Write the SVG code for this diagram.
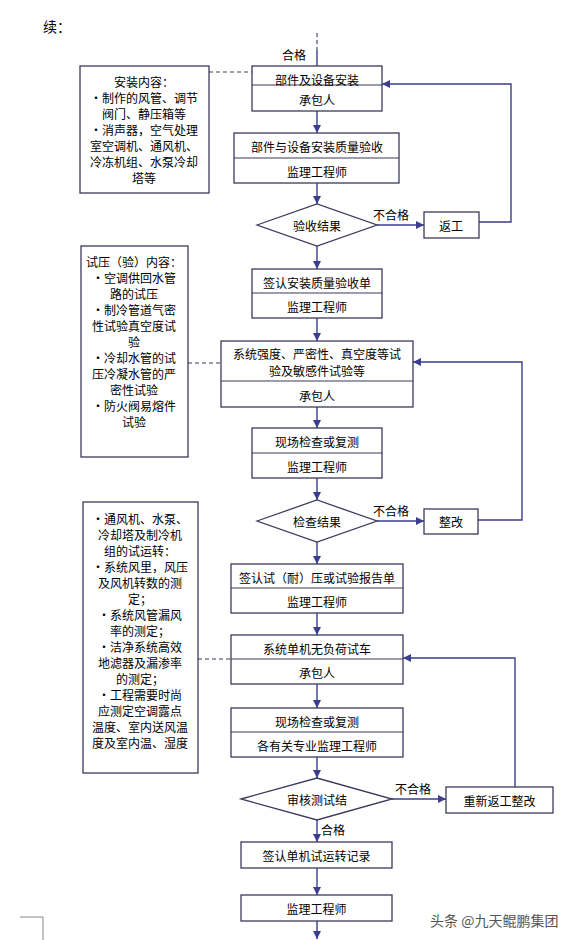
<svg xmlns="http://www.w3.org/2000/svg" width="578" height="940" viewBox="0 0 578 940">
<style>
.box{fill:#fff;stroke:#3a3a5c;stroke-width:1.3}
.div{stroke:#3a3a5c;stroke-width:1.2}
.conn{stroke:#3d3d8f;stroke-width:1.4;fill:none}
.dash{stroke:#3a3a5c;stroke-width:1.1;stroke-dasharray:4,3;fill:none}
.t{font-family:"Noto Sans CJK SC","Noto Sans",sans-serif;font-size:12px;fill:#000;text-anchor:middle;dominant-baseline:central}
.n{font-family:"Noto Sans CJK SC","Noto Sans",sans-serif;font-size:12px;fill:#000;text-anchor:middle;dominant-baseline:central}
</style>
<defs>
<marker id="ah" markerUnits="userSpaceOnUse" markerWidth="9" markerHeight="9" refX="8" refY="4" orient="auto">
<path d="M0,0 L8,4 L0,8 z" fill="#3d3d8f"/>
</marker>
</defs>
<rect width="578" height="940" fill="#fff"/>
<text x="43" y="26" font-family="'Noto Sans CJK SC',sans-serif" font-size="14" fill="#000" dominant-baseline="central">续：</text>

<g id="connectors">
<line class="dash" x1="317" y1="33" x2="317" y2="50"/>
<line class="conn" x1="317" y1="50" x2="317" y2="66"/>
<text class="n" x="294" y="54">合格</text>
<line class="dash" x1="209" y1="72" x2="252" y2="72"/>
<line class="conn" x1="317" y1="111" x2="317" y2="133" marker-end="url(#ah)"/>
<line class="conn" x1="317" y1="183" x2="317" y2="204" marker-end="url(#ah)"/>
<line class="conn" x1="377" y1="225" x2="424" y2="225" marker-end="url(#ah)"/>
<text class="n" x="391" y="214">不合格</text>
<polyline class="conn" points="479,222 511,222 511,84 382,84" marker-end="url(#ah)"/>
<line class="conn" x1="317" y1="246" x2="317" y2="269" marker-end="url(#ah)"/>
<line class="conn" x1="317" y1="318" x2="317" y2="341" marker-end="url(#ah)"/>
<line class="dash" x1="188" y1="363" x2="221" y2="363"/>
<line class="conn" x1="317" y1="407" x2="317" y2="428" marker-end="url(#ah)"/>
<line class="conn" x1="317" y1="478" x2="317" y2="500" marker-end="url(#ah)"/>
<line class="conn" x1="377" y1="521" x2="424" y2="521" marker-end="url(#ah)"/>
<text class="n" x="391" y="510">不合格</text>
<polyline class="conn" points="478,520 522,520 522,362 413,362" marker-end="url(#ah)"/>
<line class="conn" x1="317" y1="542" x2="317" y2="564" marker-end="url(#ah)"/>
<line class="conn" x1="317" y1="613" x2="317" y2="635" marker-end="url(#ah)"/>
<line class="dash" x1="198" y1="659" x2="231" y2="659"/>
<line class="conn" x1="317" y1="684" x2="317" y2="708" marker-end="url(#ah)"/>
<line class="conn" x1="317" y1="757" x2="317" y2="778" marker-end="url(#ah)"/>
<line class="conn" x1="392" y1="799" x2="446" y2="799" marker-end="url(#ah)"/>
<text class="n" x="413" y="788">不合格</text>
<polyline class="conn" points="515,787 515,658 403,658" marker-end="url(#ah)"/>
<line class="conn" x1="317" y1="820" x2="317" y2="842" marker-end="url(#ah)"/>
<text class="n" x="333" y="829">合格</text>
<line class="conn" x1="317" y1="868" x2="317" y2="895" marker-end="url(#ah)"/>
<line class="conn" x1="317" y1="921" x2="317" y2="939" marker-end="url(#ah)"/>
</g>

<g id="note1">
<rect class="box" x="80" y="66" width="129" height="127"/>
<text class="t" x="144" y="81">安装内容：</text>
<text class="t" x="144" y="97">·制作的风管、调节</text>
<text class="t" x="144" y="113">阀门、静压箱等</text>
<text class="t" x="144" y="129">·消声器，空气处理</text>
<text class="t" x="144" y="145">室空调机、通风机、</text>
<text class="t" x="144" y="161">冷冻机组、水泵冷却</text>
<text class="t" x="144" y="177">塔等</text>
</g>

<g id="note2">
<rect class="box" x="81" y="246" width="107" height="211"/>
<text class="t" x="134" y="261">试压（验）内容：</text>
<text class="t" x="134" y="277">·空调供回水管</text>
<text class="t" x="134" y="293">路的试压</text>
<text class="t" x="134" y="309">·制冷管道气密</text>
<text class="t" x="134" y="325">性试验真空度试</text>
<text class="t" x="134" y="341">验</text>
<text class="t" x="134" y="357">·冷却水管的试</text>
<text class="t" x="134" y="373">压冷凝水管的严</text>
<text class="t" x="134" y="389">密性试验</text>
<text class="t" x="134" y="405">·防火阀易熔件</text>
<text class="t" x="134" y="421">试验</text>
</g>

<g id="note3">
<rect class="box" x="83" y="502" width="115" height="271"/>
<text class="t" x="140" y="518">·通风机、水泵、</text>
<text class="t" x="140" y="534">冷却塔及制冷机</text>
<text class="t" x="140" y="550">组的试运转：</text>
<text class="t" x="140" y="566">·系统风里，风压</text>
<text class="t" x="140" y="582">及风机转数的测</text>
<text class="t" x="140" y="598">定；</text>
<text class="t" x="140" y="614">·系统风管漏风</text>
<text class="t" x="140" y="630">率的测定；</text>
<text class="t" x="140" y="646">·洁净系统高效</text>
<text class="t" x="140" y="662">地滤器及漏渗率</text>
<text class="t" x="140" y="678">的测定；</text>
<text class="t" x="140" y="694">·工程需要时尚</text>
<text class="t" x="140" y="710">应测定空调露点</text>
<text class="t" x="140" y="726">温度、室内送风温</text>
<text class="t" x="140" y="742">度及室内温、湿度</text>
</g>

<g id="n1">
<rect class="box" x="252" y="66" width="130" height="45"/>
<line class="div" x1="252" y1="85" x2="382" y2="85"/>
<text class="t" x="317" y="79">部件及设备安装</text>
<text class="t" x="317" y="99">承包人</text>
</g>
<g id="n2">
<rect class="box" x="234" y="133" width="165" height="50"/>
<line class="div" x1="234" y1="158" x2="399" y2="158"/>
<text class="t" x="317" y="146">部件与设备安装质量验收</text>
<text class="t" x="317" y="171">监理工程师</text>
</g>
<g id="d1">
<polygon class="box" points="257,225 317,204 377,225 317,246"/>
<text class="t" x="317" y="225">验收结果</text>
</g>
<g id="r1">
<rect class="box" x="424" y="212" width="55" height="26"/>
<text class="t" x="451" y="225">返工</text>
</g>
<g id="n3">
<rect class="box" x="252" y="269" width="130" height="49"/>
<line class="div" x1="252" y1="293" x2="382" y2="293"/>
<text class="t" x="317" y="282">签认安装质量验收单</text>
<text class="t" x="317" y="306">监理工程师</text>
</g>
<g id="n4">
<rect class="box" x="221" y="341" width="192" height="66"/>
<line class="div" x1="221" y1="381" x2="413" y2="381"/>
<text class="t" x="317" y="353">系统强度、严密性、真空度等试</text>
<text class="t" x="317" y="370">验及敏感件试验等</text>
<text class="t" x="317" y="395">承包人</text>
</g>
<g id="n5">
<rect class="box" x="252" y="428" width="130" height="50"/>
<line class="div" x1="252" y1="453" x2="382" y2="453"/>
<text class="t" x="317" y="441">现场检查或复测</text>
<text class="t" x="317" y="466">监理工程师</text>
</g>
<g id="d2">
<polygon class="box" points="257,521 317,500 377,521 317,542"/>
<text class="t" x="317" y="521">检查结果</text>
</g>
<g id="r2">
<rect class="box" x="424" y="509" width="54" height="25"/>
<text class="t" x="451" y="521">整改</text>
</g>
<g id="n6">
<rect class="box" x="231" y="564" width="172" height="49"/>
<line class="div" x1="231" y1="588" x2="403" y2="588"/>
<text class="t" x="317" y="577">签认试（耐）压或试验报告单</text>
<text class="t" x="317" y="601">监理工程师</text>
</g>
<g id="n7">
<rect class="box" x="231" y="635" width="172" height="49"/>
<line class="div" x1="231" y1="659" x2="403" y2="659"/>
<text class="t" x="317" y="648">系统单机无负荷试车</text>
<text class="t" x="317" y="672">承包人</text>
</g>
<g id="n8">
<rect class="box" x="231" y="708" width="172" height="49"/>
<line class="div" x1="231" y1="732" x2="403" y2="732"/>
<text class="t" x="317" y="721">现场检查或复测</text>
<text class="t" x="317" y="745">各有关专业监理工程师</text>
</g>
<g id="d3">
<polygon class="box" points="241,799 317,778 392,799 317,820"/>
<text class="t" x="317" y="799">审核测试结</text>
</g>
<g id="r3">
<rect class="box" x="446" y="787" width="107" height="26"/>
<text class="t" x="499.5" y="800">重新返工整改</text>
</g>
<g id="n9">
<rect class="box" x="241" y="842" width="151" height="26"/>
<text class="t" x="316.5" y="855">签认单机试运转记录</text>
</g>
<g id="n10">
<rect class="box" x="241" y="895" width="151" height="26"/>
<text class="t" x="316.5" y="908">监理工程师</text>
</g>

<path d="M20,917 H43 V940" fill="none" stroke="#888" stroke-width="1"/>
<text x="430" y="920" font-family="'Noto Sans CJK SC',sans-serif" font-size="14" fill="#555" dominant-baseline="central">头条 @九天鲲鹏集团</text>
</svg>
